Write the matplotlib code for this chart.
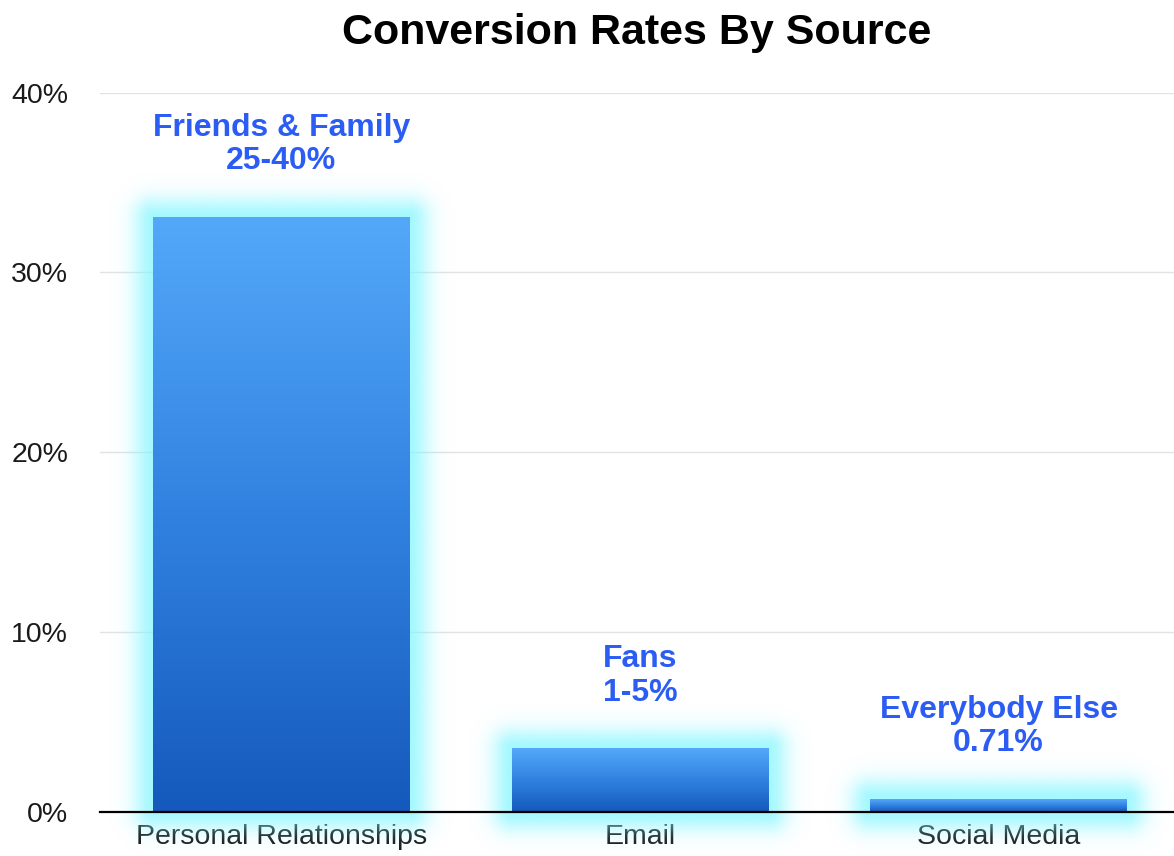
"""
Conversion rates by source: gradient bars with a soft cyan glow.
"""
import numpy as np
import matplotlib.pyplot as plt
from matplotlib.colors import LinearSegmentedColormap, to_rgb

CATEGORIES = ["Personal Relationships", "Email", "Social Media"]
VALUES = [33.1, 3.53, 0.71]
LABELS = ["Friends & Family\n25-40%", "Fans\n1-5%", "Everybody Else\n0.71%"]
YTICKS = [0, 10, 20, 30, 40]
YTICK_LABELS = ["0%", "10%", "20%", "30%", "40%"]

W, H = 1174, 856
XLIM = (-0.505, 2.489)
YLIM = (0, 40)
BAR_W = 0.715

plt.rcParams["font.family"] = ["Liberation Sans", "DejaVu Sans"]

fig = plt.figure(figsize=(W / 100, H / 100), dpi=100)
ax = fig.add_axes([100 / W, 44.3 / H, 1074 / W, 719 / H])

# pixels per data unit, used for the glow falloff
sx = 1074 / (XLIM[1] - XLIM[0])
sy = 719 / (YLIM[1] - YLIM[0])

bar_cmap = LinearSegmentedColormap.from_list("bar", ["#1459bb", "#3182e0", "#54a8f9"])
glow_rgb = to_rgb("#7ef6ff")

for i, v in enumerate(VALUES):
    x0, x1 = i - BAR_W / 2, i + BAR_W / 2

    # glow
    m = 55
    gx0, gx1 = x0 - m / sx, x1 + m / sx
    gy0, gy1 = -m / sy, v + m / sy
    xs = np.linspace(gx0, gx1, 300)
    ys = np.linspace(gy0, gy1, 300)
    X, Y = np.meshgrid(xs, ys)
    dx = np.maximum.reduce([x0 - X, np.zeros_like(X), X - x1]) * sx
    dy = np.maximum.reduce([0 - Y, np.zeros_like(Y), Y - v]) * sy
    d = np.hypot(dx, dy)
    alpha = 0.7 * np.exp(-(d / 20) ** 2)
    img = np.zeros(X.shape + (4,))
    img[..., :3] = glow_rgb
    img[..., 3] = alpha
    ax.imshow(img, extent=[gx0, gx1, gy0, gy1], origin="lower", aspect="auto",
              zorder=2, clip_on=False, interpolation="bilinear")

    # bar body with vertical gradient
    grad = np.linspace(1, 0, 256).reshape(-1, 1)
    ax.imshow(grad, extent=[x0, x1, 0, v], cmap=bar_cmap, aspect="auto",
              zorder=3, vmin=0, vmax=1)

    ax.annotate(LABELS[i], xy=(i, v), xytext=(0, 52), textcoords="offset points",
                ha="center", va="center", fontsize=23, fontweight="bold",
                color="#2b5cf4", linespacing=1.15, zorder=6)

ax.set_xlim(*XLIM)
ax.set_ylim(*YLIM)
ax.set_xticks(range(len(CATEGORIES)))
ax.set_xticklabels(CATEGORIES)
ax.set_yticks(YTICKS)
ax.set_yticklabels(YTICK_LABELS)
ax.tick_params(axis="y", length=0, pad=23, labelsize=20.5, labelcolor="#1a1a1a")
ax.tick_params(axis="x", length=0, pad=9, labelsize=20.5, labelcolor="#1a1a1a")

ax.yaxis.grid(True, color="#e2e2e2", lw=1)
ax.set_axisbelow(True)
for s in ("left", "right", "top"):
    ax.spines[s].set_visible(False)
ax.spines["bottom"].set_color("black")
ax.spines["bottom"].set_linewidth(1.6)
ax.spines["bottom"].set_zorder(5)

fig.text(637 / W, 1 - 33 / H, "Conversion Rates By Source", ha="center", va="center",
         fontsize=31, fontweight="bold", color="black")

fig.savefig("out.png", dpi=100)
